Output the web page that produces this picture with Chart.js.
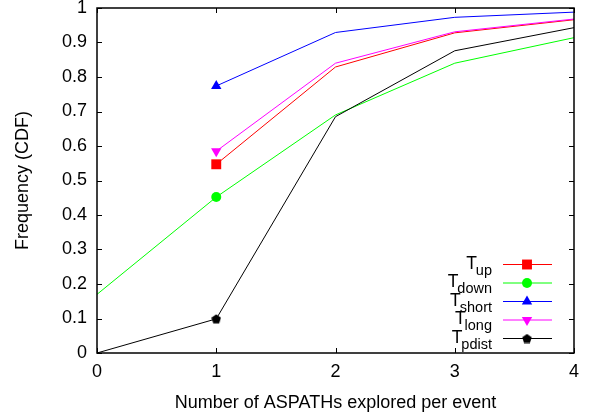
<!DOCTYPE html>
<html lang="en">
<head>
<meta charset="UTF-8">
<title>ASPATHs explored per event</title>
<script src="https://cdn.jsdelivr.net/npm/chart.js@4.4.1/dist/chart.umd.min.js"></script>
<style>
  html, body { margin: 0; padding: 0; background: #fff; }
  #wrap { width: 592px; height: 414px; }
</style>
</head>
<body>
<div id="wrap"><canvas id="cdfChart" width="592" height="414"></canvas></div>
<script>
// number of ASPATHs explored, one column per x tick
const xValues = [0, 1, 2, 3, 4];

// CDF per event type (null = no value at that x)
const upValues    = [null, 0.547, 0.829, 0.928, 0.966];
const downValues  = [0.17, 0.452, 0.69, 0.84, 0.914];
const shortValues = [null, 0.774, 0.929, 0.973, 0.988];
const longValues  = [null, 0.585, 0.84, 0.931, 0.968];
const pdistValues = [0, 0.099, 0.685, 0.876, 0.943];

const seriesNames = ['up', 'down', 'short', 'long', 'pdist'];
const seriesColors = ['#ff0000', '#00ff00', '#0000ff', '#ff00ff', '#000000'];

// symbols are only drawn on the x = 1 column
const markX = 1;

const FONT = '"Liberation Sans", Arial, Helvetica, sans-serif';
const FSIZE = 18;

// small filled pentagon for the pdist series
function pentagon() {
  const c = document.createElement('canvas');
  c.width = 10; c.height = 10;
  const g = c.getContext('2d');
  g.fillStyle = '#000';
  g.beginPath();
  for (let k = 0; k < 5; k++) {
    const a = -Math.PI / 2 + k * 2 * Math.PI / 5;
    const px = 5 + 5 * Math.cos(a), py = 5.4 + 5 * Math.sin(a);
    if (k === 0) g.moveTo(px, py); else g.lineTo(px, py);
  }
  g.closePath();
  g.fill();
  return c;
}

const styles = [
  { pointStyle: 'rect', radius: 7, rotation: 0 },
  { pointStyle: 'circle', radius: 5, rotation: 0 },
  { pointStyle: 'triangle', radius: 6, rotation: 0 },
  { pointStyle: 'triangle', radius: 6, rotation: 180 },
  { pointStyle: pentagon(), radius: 5, rotation: 0 }
];

function toPoints(vals) {
  const pts = [];
  for (let i = 0; i < xValues.length; i++) {
    if (vals[i] !== null) pts.push({ x: xValues[i], y: vals[i] });
  }
  return pts;
}

const allValues = [upValues, downValues, shortValues, longValues, pdistValues];

const datasets = allValues.map(function (vals, i) {
  return {
    label: 'T' + seriesNames[i],
    data: toPoints(vals),
    borderColor: seriesColors[i],
    backgroundColor: seriesColors[i],
    borderWidth: 1,
    pointStyle: styles[i].pointStyle,
    pointRotation: styles[i].rotation,
    pointBorderWidth: 0,
    pointRadius: function (ctx) {
      return ctx.raw && ctx.raw.x === markX ? styles[i].radius : 0;
    },
    tension: 0,
    order: 5 - i
  };
});

// gnuplot-like box with inward ticks on all four sides
const frameTicks = {
  id: 'frameTicks',
  afterDatasetsDraw(chart) {
    const { ctx, chartArea: a } = chart;
    const xs = chart.scales.x, ys = chart.scales.y;
    const len = 5;
    ctx.save();
    ctx.strokeStyle = '#000';
    ctx.lineWidth = 1;
    ctx.beginPath();
    xs.ticks.forEach(function (t) {
      const px = Math.round(xs.getPixelForValue(t.value)) + 0.5;
      ctx.moveTo(px, a.bottom); ctx.lineTo(px, a.bottom - len);
      ctx.moveTo(px, a.top); ctx.lineTo(px, a.top + len);
    });
    ys.ticks.forEach(function (t) {
      const py = Math.round(ys.getPixelForValue(t.value)) + 0.5;
      ctx.moveTo(a.left, py); ctx.lineTo(a.left + len, py);
      ctx.moveTo(a.right, py); ctx.lineTo(a.right - len, py);
    });
    ctx.stroke();
    ctx.lineWidth = 1.5;
    ctx.strokeRect(a.left, a.top, a.right - a.left, a.bottom - a.top);
    ctx.restore();
  }
};

// key in the lower right corner, labels with subscripts
const subKey = {
  id: 'subKey',
  afterDraw(chart) {
    const ctx = chart.ctx;
    const textRight = 492, lineL = 503, lineR = 552, markPos = 527;
    const top = 264.5, step = 18.5;
    ctx.save();
    datasets.forEach(function (ds, i) {
      const y = top + i * step;
      ctx.strokeStyle = ds.borderColor;
      ctx.lineWidth = 1;
      ctx.beginPath();
      ctx.moveTo(lineL, y); ctx.lineTo(lineR, y);
      ctx.stroke();
      ctx.fillStyle = ds.backgroundColor;
      Chart.helpers.drawPoint(ctx, {
        pointStyle: styles[i].pointStyle,
        radius: styles[i].radius,
        rotation: styles[i].rotation,
        borderWidth: 0
      }, markPos, y);

      ctx.fillStyle = '#000';
      ctx.textAlign = 'right';
      ctx.textBaseline = 'alphabetic';
      ctx.font = '14.5px ' + FONT;
      const sub = seriesNames[i];
      const w = ctx.measureText(sub).width;
      ctx.fillText(sub, textRight, y + 10);
      ctx.font = '17.5px ' + FONT;
      ctx.fillText('T', textRight - w + 1, y + 4);
    });
    ctx.restore();
  }
};

function fmt(v) { return String(Number(v.toFixed(1))); }

new Chart('cdfChart', {
  type: 'line',
  data: { datasets: datasets },
  options: {
    responsive: false,
    animation: false,
    events: [],
    layout: { padding: { top: 8, right: 18, left: 0, bottom: 0 } },
    plugins: { legend: { display: false }, tooltip: { enabled: false } },
    scales: {
      x: {
        type: 'linear',
        min: 0, max: 4,
        grid: { display: false, drawTicks: false },
        border: { display: false },
        ticks: { stepSize: 1, color: '#000', font: { family: FONT, size: FSIZE }, padding: 8, maxRotation: 0, callback: fmt },
        title: { display: true, text: 'Number of ASPATHs explored per event', color: '#000',
                 font: { family: FONT, size: FSIZE }, padding: { top: 4.2, bottom: 0 } },
        afterFit: function (s) { s.height = 61; s.paddingLeft = 0; s.paddingRight = 0; }
      },
      y: {
        min: 0, max: 1,
        grid: { display: false, drawTicks: false },
        border: { display: false },
        ticks: { stepSize: 0.1, color: '#000', font: { family: FONT, size: FSIZE }, padding: 10, callback: fmt },
        title: { display: true, text: 'Frequency (CDF)', color: '#000',
                 font: { family: FONT, size: FSIZE }, padding: { top: 12.2, bottom: 0 } },
        afterFit: function (s) { s.width = 97; s.paddingTop = 0; s.paddingBottom = 0; }
      }
    }
  },
  plugins: [frameTicks, subKey]
});
</script>
</body>
</html>
